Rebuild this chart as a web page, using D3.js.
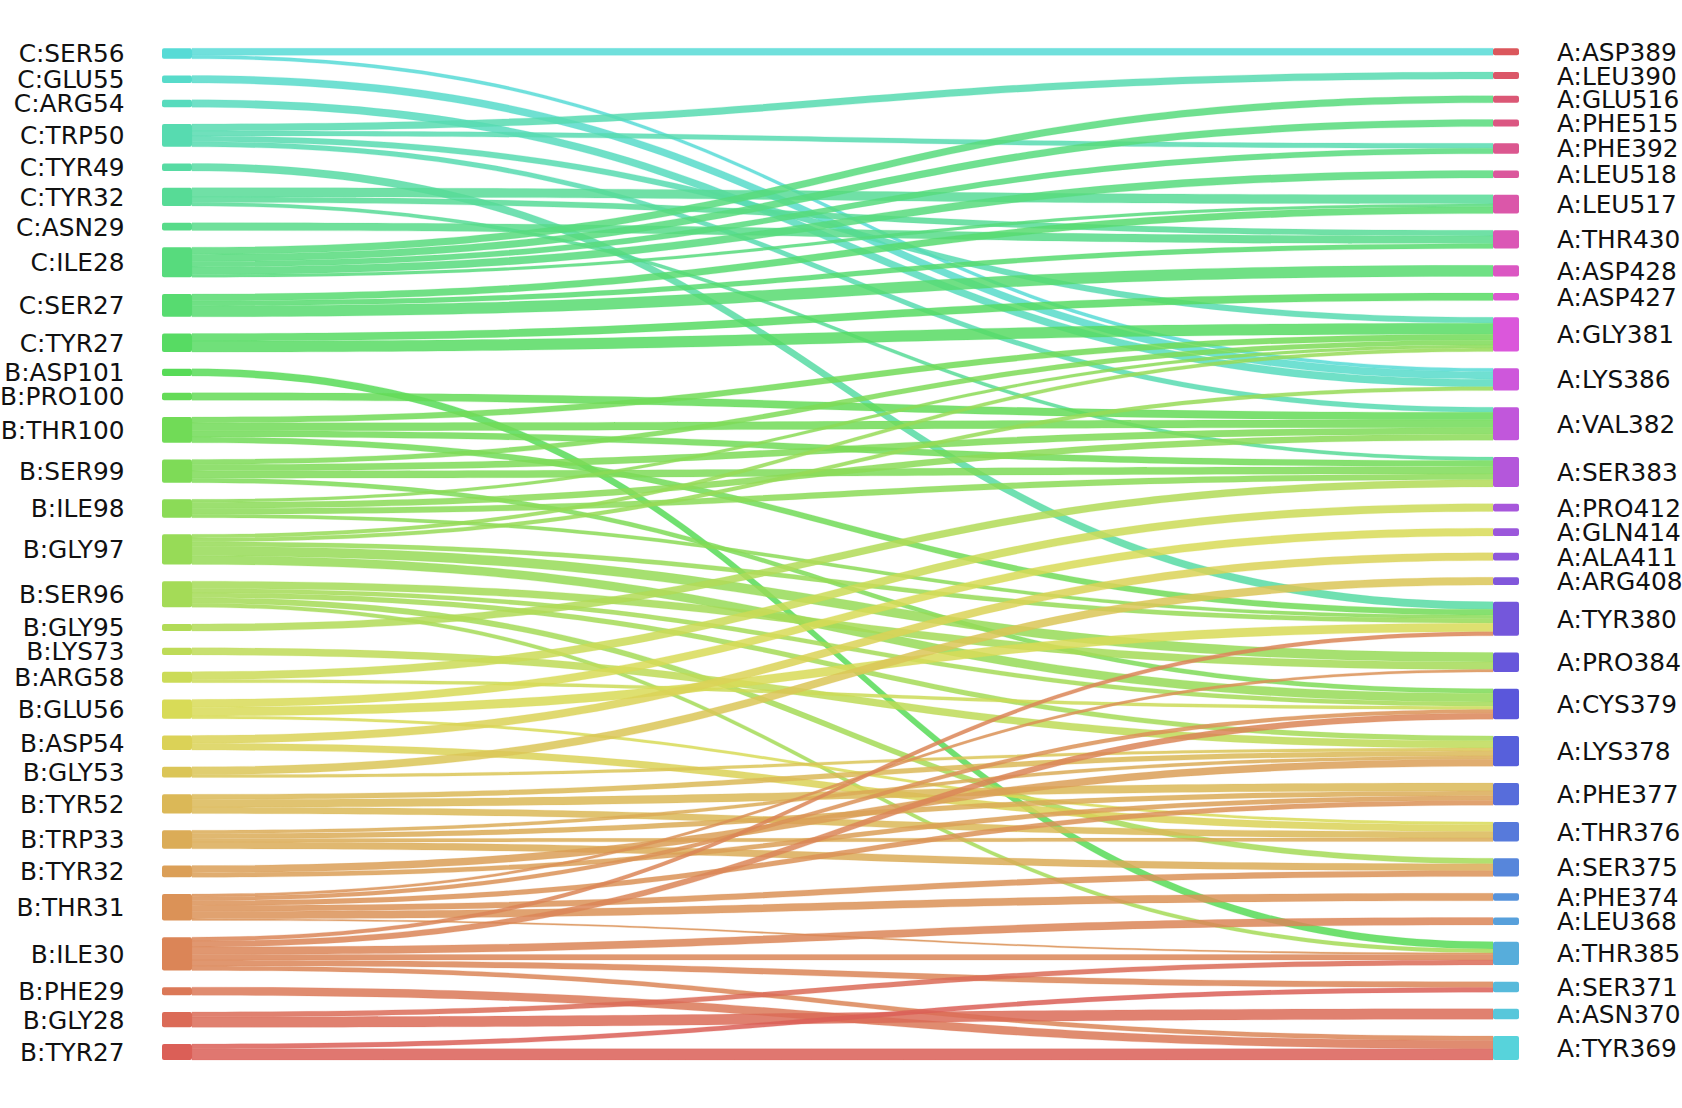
<!DOCTYPE html>
<html><head><meta charset="utf-8">
<script src="https://cdn.jsdelivr.net/npm/d3@7"></script>
<style>body{margin:0;background:#fff}svg{display:block}</style>
</head><body><svg id="c" width="1682" height="1108"></svg>
<script>
// ---- data ----
const leftNodes = ["C:SER56","C:GLU55","C:ARG54","C:TRP50","C:TYR49","C:TYR32","C:ASN29","C:ILE28","C:SER27","C:TYR27",
  "B:ASP101","B:PRO100","B:THR100","B:SER99","B:ILE98","B:GLY97","B:SER96","B:GLY95","B:LYS73","B:ARG58",
  "B:GLU56","B:ASP54","B:GLY53","B:TYR52","B:TRP33","B:TYR32","B:THR31","B:ILE30","B:PHE29","B:GLY28","B:TYR27"];
const rightNodes = ["A:ASP389","A:LEU390","A:GLU516","A:PHE515","A:PHE392","A:LEU518","A:LEU517","A:THR430","A:ASP428","A:ASP427",
  "A:GLY381","A:LYS386","A:VAL382","A:SER383","A:PRO412","A:GLN414","A:ALA411","A:ARG408","A:TYR380","A:PRO384",
  "A:CYS379","A:LYS378","A:PHE377","A:THR376","A:SER375","A:PHE374","A:LEU368","A:THR385","A:SER371","A:ASN370","A:TYR369"];
const flows = [
  ["C:SER56","A:ASP389",7.2],["C:SER56","A:LYS386",3.5],
  ["C:GLU55","A:LYS386",7.7],
  ["C:ARG54","A:LYS386",7.7],
  ["C:TRP50","A:LEU390",7.2],["C:TRP50","A:PHE392",5],["C:TRP50","A:GLY381",6],["C:TRP50","A:VAL382",5.1],
  ["C:TYR49","A:TYR380",7.7],
  ["C:TYR32","A:LEU517",9.4],["C:TYR32","A:THR430",5.7],["C:TYR32","A:SER383",3.6],
  ["C:ASN29","A:THR430",8],
  ["C:ILE28","A:GLU516",7.2],["C:ILE28","A:PHE515",7.2],["C:ILE28","A:PHE392",5.7],["C:ILE28","A:LEU518",7.7],["C:ILE28","A:LEU517",2.9],
  ["C:SER27","A:LEU517",7],["C:SER27","A:THR430",5],["C:SER27","A:ASP428",11.3],
  ["C:TYR27","A:ASP427",7.7],["C:TYR27","A:GLY381",11.3],
  ["B:ASP101","A:THR385",7.4],
  ["B:PRO100","A:VAL382",7.7],
  ["B:THR100","A:GLY381",6],["B:THR100","A:VAL382",8],["B:THR100","A:SER383",6.3],["B:THR100","A:TYR380",6],
  ["B:SER99","A:GLY381",5],["B:SER99","A:VAL382",6.7],["B:SER99","A:SER383",7.4],["B:SER99","A:CYS379",4.6],
  ["B:ILE98","A:GLY381",3],["B:ILE98","A:VAL382",6.2],["B:ILE98","A:SER383",6],["B:ILE98","A:TYR380",3.5],
  ["B:GLY97","A:GLY381",3.7],["B:GLY97","A:LYS386",3.9],["B:GLY97","A:TYR380",4.6],["B:GLY97","A:PRO384",9.7],["B:GLY97","A:CYS379",8.8],
  ["B:SER96","A:PRO384",7.6],["B:SER96","A:CYS379",4.4],["B:SER96","A:LYS378",5],["B:SER96","A:SER375",5.7],["B:SER96","A:THR385",4],
  ["B:GLY95","A:SER383",7.3],
  ["B:LYS73","A:LYS378",7.3],
  ["B:ARG58","A:PRO412",8],["B:ARG58","A:CYS379",3.3],
  ["B:GLU56","A:GLN414",8],["B:GLU56","A:TYR380",8.9],["B:GLU56","A:THR376",2.8],
  ["B:ASP54","A:ALA411",8],["B:ASP54","A:THR376",7],
  ["B:GLY53","A:ARG408",8],["B:GLY53","A:LYS378",3],
  ["B:TYR52","A:LYS378",5.1],["B:TYR52","A:PHE377",8],["B:TYR52","A:THR376",6.6],
  ["B:TRP33","A:LYS378",3.4],["B:TRP33","A:PHE377",5],["B:TRP33","A:THR376",3.6],["B:TRP33","A:SER375",7],
  ["B:TYR32","A:LYS378",7.3],["B:TYR32","A:PHE377",4.7],
  ["B:THR31","A:PRO384",2.7],["B:THR31","A:CYS379",4],["B:THR31","A:PHE377",5],["B:THR31","A:SER375",6],["B:THR31","A:PHE374",7.7],["B:THR31","A:THR385",1.6],
  ["B:ILE30","A:TYR380",4],["B:ILE30","A:CYS379",6],["B:ILE30","A:LEU368",7.7],["B:ILE30","A:THR385",5.7],["B:ILE30","A:SER371",6],["B:ILE30","A:TYR369",4.6],
  ["B:PHE29","A:TYR369",8.3],
  ["B:GLY28","A:ASN370",10.7],["B:GLY28","A:THR385",5],
  ["B:TYR27","A:SER371",4.7],["B:TYR27","A:TYR369",11.6]
];

// ---- layout ----
const L = {top:48.3, bottom:1060, pad:16.7, lx0:162, lx1:192, rx0:1493, rx1:1519, lLabel:124.5, rLabel:1557};
const svg = d3.select("#c");
const outSum = d3.rollup(flows, v => d3.sum(v, d => d[2]), d => d[0]);
const inSum = d3.rollup(flows, v => d3.sum(v, d => d[2]), d => d[1]);
const span = L.bottom - L.top;
const leftTotal = d3.sum(leftNodes, n => outSum.get(n) || 0);
const rightTotal = d3.sum(rightNodes, n => inSum.get(n) || 0);
const ky = d3.scaleLinear().domain([0, Math.max(leftTotal, rightTotal)])
  .range([0, span - (leftNodes.length - 1) * L.pad]);

function place(names, sums, x0, x1, side) {
  const tot = ky(d3.sum(names, n => sums.get(n) || 0));
  const pad = (span - tot) / (names.length - 1);
  const m = new Map(); let y = L.top;
  names.forEach((n, i) => {
    const h = ky(sums.get(n) || 0);
    m.set(n, {name:n, i, side, x0, x1, y0:y, y1:y + h, cur:y});
    y += h + pad;
  });
  return m;
}
const lmap = place(leftNodes, outSum, L.lx0, L.lx1, "L");
const rmap = place(rightNodes, inSum, L.rx0, L.rx1, "R");

// colours: hls palette over all nodes (left bottom->top, then right bottom->top)
const nAll = leftNodes.length + rightNodes.length;
const hue = d3.scaleLinear().domain([0, nAll]).range([3.6, 363.6]);
function colorOf(node) {
  const idx = node.side === "L" ? (leftNodes.length - 1 - node.i)
                                : leftNodes.length + (rightNodes.length - 1 - node.i);
  return d3.hsl(hue(idx) % 360, 0.65, 0.6).formatHex();
}

// link stacking (sorted by the position of the opposite node)
const links = flows.map(([s, t, v]) => ({s: lmap.get(s), t: rmap.get(t), v, w: ky(v)}));
d3.groups(links, d => d.s.name).forEach(([, ls]) => {
  ls.sort((a, b) => a.t.i - b.t.i);
  ls.forEach(l => { l.y0 = l.s.cur; l.s.cur += l.w; });
});
d3.groups(links, d => d.t.name).forEach(([, ls]) => {
  ls.sort((a, b) => a.s.i - b.s.i);
  ls.forEach(l => { l.y1 = l.t.cur; l.t.cur += l.w; });
});

function linkPath(l) {
  const x0 = L.lx1, x1 = L.rx0, xm = (x0 + x1) / 2;
  const p = d3.path();
  p.moveTo(x0, l.y0);
  p.bezierCurveTo(xm, l.y0, xm, l.y1, x1, l.y1);
  p.lineTo(x1, l.y1 + l.w);
  p.bezierCurveTo(xm, l.y1 + l.w, xm, l.y0 + l.w, x0, l.y0 + l.w);
  p.closePath();
  return p.toString();
}

svg.append("g").selectAll("path").data(links).join("path")
  .attr("d", linkPath)
  .attr("fill", d => colorOf(d.s))
  .attr("fill-opacity", 0.85)
  .attr("stroke", d => colorOf(d.s))
  .attr("stroke-opacity", 0.25)
  .attr("stroke-width", 0.8);

const nodes = [...lmap.values(), ...rmap.values()];
svg.append("g").selectAll("rect").data(nodes).join("rect")
  .attr("x", d => d.x0).attr("y", d => d.y0)
  .attr("width", d => d.x1 - d.x0).attr("height", d => Math.max(1, d.y1 - d.y0))
  .attr("rx", 2).attr("fill", d => colorOf(d));

svg.append("g").selectAll("text").data(nodes).join("text")
  .attr("x", d => d.side === "L" ? L.lLabel : L.rLabel)
  .attr("y", d => (d.y0 + d.y1) / 2)
  .attr("dy", "0.36em")
  .attr("text-anchor", d => d.side === "L" ? "end" : "start")
  .attr("font-family", "DejaVu Sans")
  .attr("font-size", 24.8)
  .attr("fill", "#111")
  .text(d => d.name);
</script>
</body></html>
